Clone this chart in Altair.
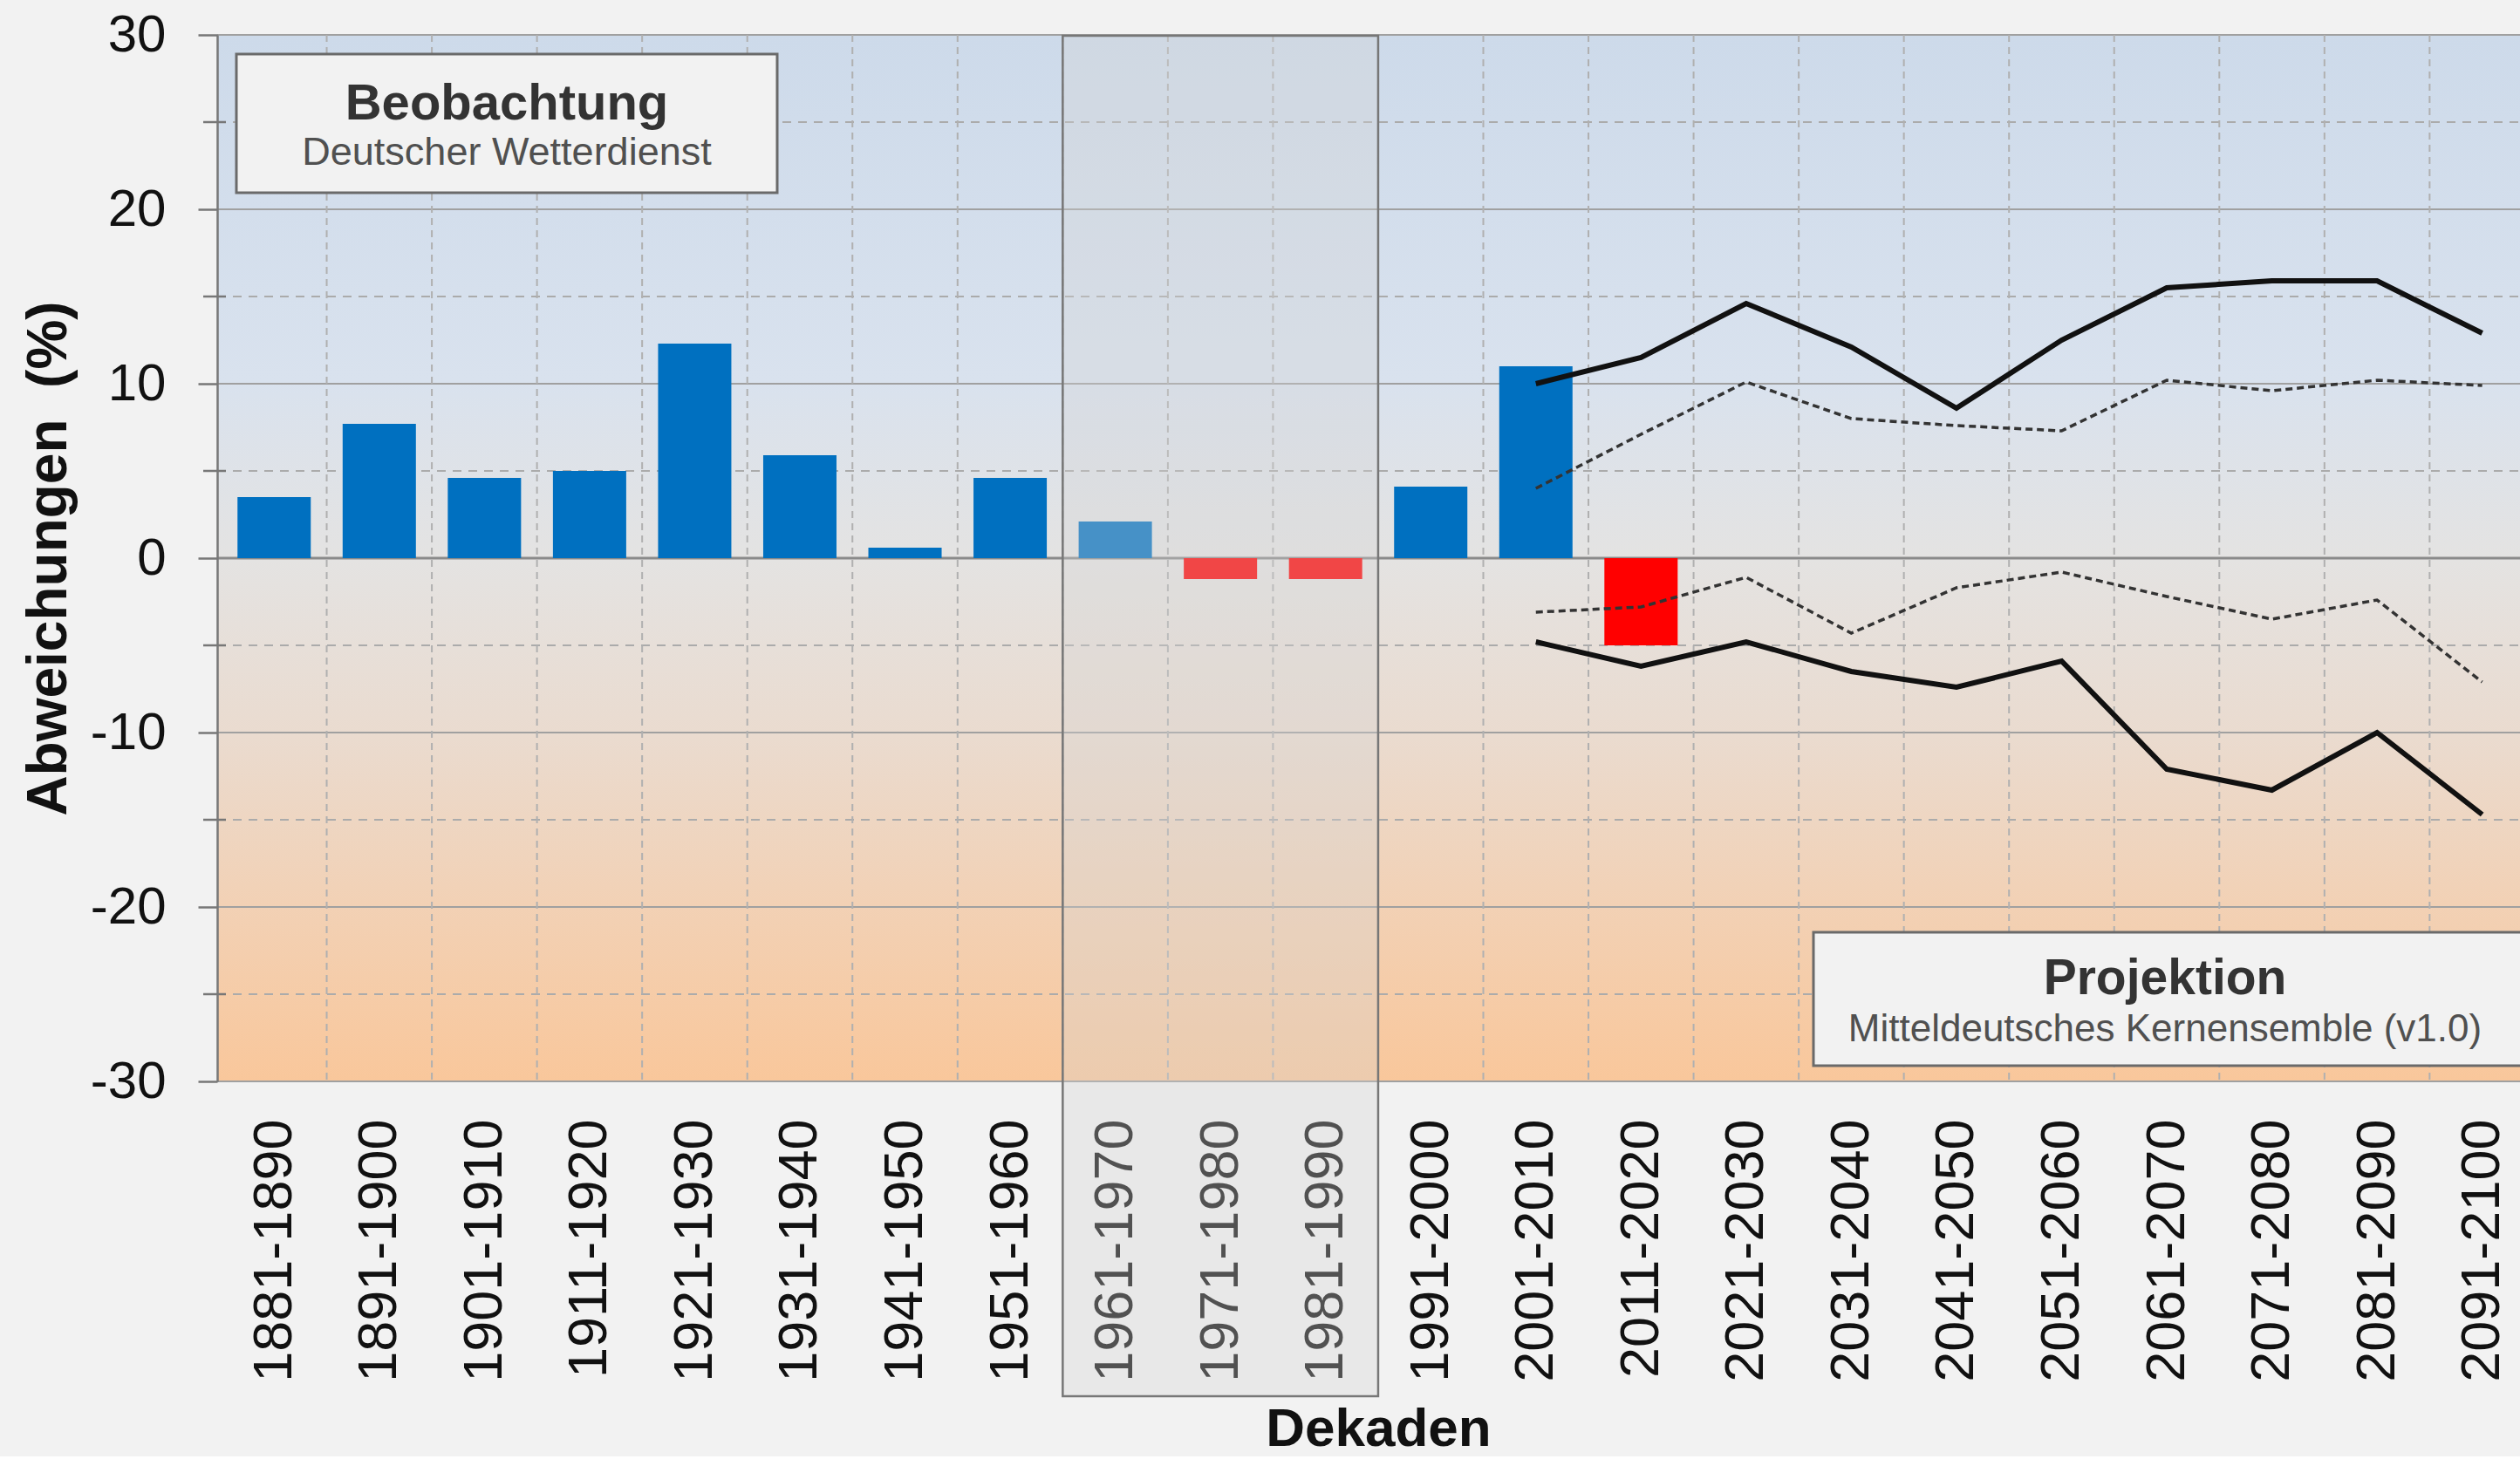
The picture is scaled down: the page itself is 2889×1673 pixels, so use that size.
import json
import altair as alt
import pandas as pd

# ---------------- data ----------------
decades = [
    "1881-1890", "1891-1900", "1901-1910", "1911-1920", "1921-1930", "1931-1940",
    "1941-1950", "1951-1960", "1961-1970", "1971-1980", "1981-1990", "1991-2000",
    "2001-2010", "2011-2020", "2021-2030", "2031-2040", "2041-2050", "2051-2060",
    "2061-2070", "2071-2080", "2081-2090", "2091-2100",
]
obs_values = [3.5, 7.7, 4.6, 5.0, 12.3, 5.9, 0.6, 4.6, 2.1, -1.2, -1.2, 4.1, 11.0, -5.0]

proj_decades = decades[12:]
proj_max = [10.0, 11.5, 14.6, 12.1, 8.6, 12.5, 15.5, 15.9, 15.9, 12.9]
proj_upper = [4.0, 7.1, 10.1, 8.0, 7.6, 7.3, 10.2, 9.6, 10.2, 9.9]
proj_lower = [-3.1, -2.8, -1.1, -4.3, -1.7, -0.8, -2.2, -3.5, -2.4, -7.1]
proj_min = [-4.8, -6.2, -4.8, -6.5, -7.4, -5.9, -12.1, -13.3, -10.0, -14.7]

y_ticks = [-30, -20, -10, 0, 10, 20, 30]
y_major_grid = [-30, -20, -10, 10, 20, 30]
y_minor = [-25, -15, -5, 5, 15, 25]
reference_period = ["1961-1970", "1981-1990"]

# ---------------- layout ----------------
W, H = 2640, 1200
BAND = 121
FONT = "Liberation Sans, Arial, Helvetica, sans-serif"

pos = {d: i + 0.5 for i, d in enumerate(decades)}
xscale = alt.Scale(domain=[0, W / BAND], nice=False, zero=False)
yscale = alt.Scale(domain=[-30, 30], nice=False, zero=False)

X_AXIS = alt.Axis(
    values=[pos[d] for d in decades],
    labelExpr=json.dumps(decades) + "[floor(datum.value)]",
    labelAngle=270, labelAlign="right", labelBaseline="middle",
    labelFontSize=63, labelPadding=43, labelColor="#111111", labelLimit=0,
    labelOverlap=False, labelFlush=False, labelFont=FONT,
    ticks=False, domain=False, grid=False,
    title="Dekaden", titleFontSize=62, titleFontWeight="bold", titleFont=FONT,
    titleColor="#111111", titleX=1331, titleY=417,
    titleAlign="center", titleBaseline="alphabetic", titleLimit=0,
)
Y_AXIS = alt.Axis(
    values=y_ticks, grid=False, zindex=1,
    labelExpr="toString(datum.value)",
    tickSize=22, tickWidth=2.5, tickColor="#777777",
    domainColor="#777777", domainWidth=2.5,
    labelFontSize=60, labelPadding=37, labelColor="#111111", labelFont=FONT,
    labelFlush=False,
    title="Abweichungen\u00a0 (%)", titleFontSize=64, titleFontWeight="bold",
    titleFont=FONT, titleColor="#111111", titleAngle=270, titleLimit=0,
    titleX=-193, titleY=600, titleAlign="center", titleBaseline="middle",
)


def X(field):
    return alt.X(field, type="quantitative", scale=xscale, axis=X_AXIS, title="Dekaden")


def Y(field):
    return alt.Y(field, type="quantitative", scale=yscale, axis=Y_AXIS,
                 title="Abweichungen\u00a0 (%)")


one = pd.DataFrame({"k": [0]})

obs_df = pd.DataFrame({
    "decade": decades[:len(obs_values)],
    "pos": [pos[d] for d in decades[:len(obs_values)]],
    "value": obs_values,
})

series = {"max": proj_max, "upper": proj_upper, "lower": proj_lower, "min": proj_min}
rows = []
for name, vals in series.items():
    for d, v in zip(proj_decades, vals):
        rows.append({"decade": d, "pos": pos[d], "value": v, "series": name})
proj_df = pd.DataFrame(rows)

# ---------------- layers ----------------
gradient = alt.Gradient(
    gradient="linear", x1=0, x2=0, y1=0, y2=1,
    stops=[
        alt.GradientStop(offset=0.0, color="#cddaea"),
        alt.GradientStop(offset=0.33, color="#d9e2ee"),
        alt.GradientStop(offset=0.5, color="#e4e3e2"),
        alt.GradientStop(offset=0.67, color="#eadbcf"),
        alt.GradientStop(offset=0.83, color="#f2d1b5"),
        alt.GradientStop(offset=1.0, color="#f9c79b"),
    ],
)
bg = alt.Chart(one).mark_rect(fill=gradient).encode(
    x=alt.value(0), x2=alt.value(W), y=alt.value(0), y2=alt.value(H)
)

major = alt.Chart(pd.DataFrame({"value": y_major_grid})).mark_rule(
    color="#a0a0a0", strokeWidth=2
).encode(y=Y("value"), x=alt.value(0), x2=alt.value(W))

minor = alt.Chart(pd.DataFrame({"value": y_minor})).mark_rule(
    color="#ababab", strokeWidth=2, strokeDash=[10, 8]
).encode(y=Y("value"), x=alt.value(0), x2=alt.value(W))

minor_ticks = alt.Chart(pd.DataFrame({"value": y_minor})).mark_rule(
    color="#777777", strokeWidth=2.5
).encode(y=Y("value"), x=alt.value(-16), x2=alt.value(10))

vgrid = alt.Chart(pd.DataFrame({"pos": list(range(1, len(decades)))})).mark_rule(
    color="#b0b0b0", strokeWidth=2, strokeDash=[8, 6]
).encode(x=X("pos"), y=alt.value(0), y2=alt.value(H))

zero = alt.Chart(pd.DataFrame({"value": [0]})).mark_rule(
    color="#8a8a8a", strokeWidth=3
).encode(y=Y("value"), x=alt.value(0), x2=alt.value(W))

bars = alt.Chart(obs_df).mark_bar(orient="vertical", size=84).encode(
    x=X("pos"),
    y=Y("value"),
    color=alt.condition(alt.datum.value < 0, alt.value("#ff0000"), alt.value("#0070c0")),
)

solid = alt.Chart(proj_df[proj_df.series.isin(["max", "min"])]).mark_line(
    color="#111111", strokeWidth=6
).encode(x=X("pos"), y=Y("value"), detail="series:N")

dotted = alt.Chart(proj_df[proj_df.series.isin(["upper", "lower"])]).mark_line(
    color="#333333", strokeWidth=3.5, strokeDash=[8, 5]
).encode(x=X("pos"), y=Y("value"), detail="series:N")

ref_df = pd.DataFrame({"x0": [decades.index(reference_period[0])],
                       "x1": [decades.index(reference_period[1]) + 1]})
ref_box = alt.Chart(ref_df).mark_rect(
    fill="#d4d4d4", fillOpacity=0.33, stroke="#777777", strokeWidth=2.5
).encode(x=X("x0"), x2="x1:Q", y=alt.value(1), y2=alt.value(1561))

# annotation boxes
box1 = alt.Chart(one).mark_rect(fill="#f2f2f2", stroke="#6a6a6a", strokeWidth=3).encode(
    x=alt.value(22), x2=alt.value(642), y=alt.value(22), y2=alt.value(181)
)
box2 = alt.Chart(one).mark_rect(fill="#f2f2f2", stroke="#6a6a6a", strokeWidth=3).encode(
    x=alt.value(1830), x2=alt.value(2700), y=alt.value(1029), y2=alt.value(1182)
)

ann = pd.DataFrame({
    "text": ["Beobachtung", "Deutscher Wetterdienst",
             "Projektion", "Mitteldeutsches Kernensemble (v1.0)"],
})


def text_layer(i, x, y, size, weight, color):
    return alt.Chart(ann.iloc[[i]]).mark_text(
        font=FONT, fontSize=size, fontWeight=weight, color=color,
        align="center", baseline="alphabetic",
    ).encode(text="text:N", x=alt.value(x), y=alt.value(y))


t1 = text_layer(0, 332, 97, 58, "bold", "#333333")
t2 = text_layer(1, 332, 149, 45, "normal", "#505050")
t3 = text_layer(2, 2233, 1100, 57, "bold", "#333333")
t4 = text_layer(3, 2233, 1154, 44, "normal", "#505050")

chart = alt.layer(
    bg, major, minor, vgrid, zero, minor_ticks, bars, solid, dotted, ref_box,
    box1, box2, t1, t2, t3, t4,
).properties(
    width=W, height=H,
    padding={"left": 249, "top": 40, "right": 0, "bottom": 430},
    autosize=alt.AutoSizeParams(type="none"),
    background="#f2f2f2",
).configure_view(stroke=None).configure(font=FONT)

chart.save("out.html", embed_options={"renderer": "svg", "actions": False})
